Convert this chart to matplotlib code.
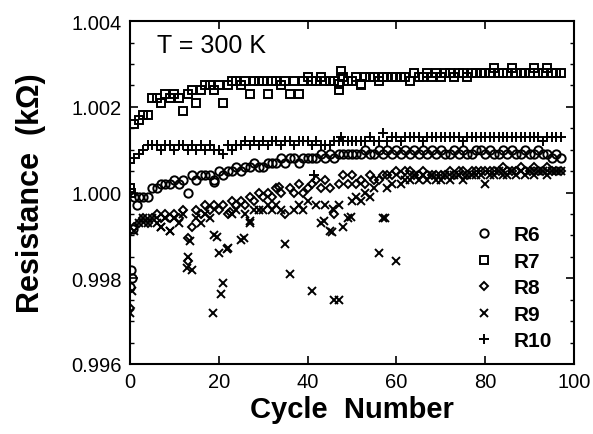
import matplotlib
matplotlib.use('Agg')
import matplotlib.pyplot as plt
import numpy as np
from matplotlib.ticker import MultipleLocator, FormatStrFormatter

plt.rcParams['font.family'] = ['Liberation Sans', 'DejaVu Sans']

# cycle numbers 0..97, one reading per cycle
cycles = list(range(98))

r6 = [0.9978, 0.9999, 0.9999, 0.9999, 0.9999, 1.0001, 1.0001, 1.0002, 1.0002, 1.0002,
      1.0003, 1.0002, 1.0003, 1.0000, 1.0004, 1.0003, 1.0004, 1.0004, 1.0004, 1.0003,
      1.0005, 1.0004, 1.0005, 1.0005, 1.0006, 1.0005, 1.0006, 1.0006, 1.0007, 1.0006,
      1.0006, 1.0007, 1.0007, 1.0007, 1.0008, 1.0007, 1.0008, 1.0008, 1.0007, 1.0008,
      1.0008, 1.0008, 1.0008, 1.0009, 1.0008, 1.0009, 1.0008, 1.0009, 1.0009, 1.0009,
      1.0009, 1.0009, 1.0009, 1.0010, 1.0009, 1.0009, 1.0010, 1.0009, 1.0010, 1.0009,
      1.0010, 1.0009, 1.0010, 1.0009, 1.0010, 1.0009, 1.0010, 1.0009, 1.0010, 1.0009,
      1.0010, 1.0009, 1.0009, 1.0010, 1.0009, 1.0010, 1.0009, 1.0009, 1.0010, 1.0010,
      1.0009, 1.0010, 1.0009, 1.0009, 1.0010, 1.0009, 1.0010, 1.0009, 1.0009, 1.0010,
      1.0009, 1.0009, 1.0010, 1.0009, 1.0009, 1.0008, 1.0009, 1.0008]

r7 = [1.0001, 1.0016, 1.0017, 1.0018, 1.0018, 1.0022, 1.0022, 1.0021, 1.0023, 1.0022,
      1.0023, 1.0022, 1.0019, 1.0023, 1.0024, 1.0021, 1.0024, 1.0025, 1.0025, 1.0024,
      1.0025, 1.0021, 1.0025, 1.0026, 1.0026, 1.0025, 1.0026, 1.0023, 1.0026, 1.0026,
      1.0026, 1.0023, 1.0026, 1.0026, 1.0025, 1.0026, 1.0023, 1.0026, 1.0023, 1.0026,
      1.0027, 1.0026, 1.0026, 1.0027, 1.0026, 1.0026, 1.0026, 1.0024, 1.0027, 1.0026,
      1.0026, 1.0027, 1.0025, 1.0027, 1.0027, 1.0027, 1.0026, 1.0027, 1.0027, 1.0027,
      1.0027, 1.0027, 1.0027, 1.0026, 1.0028, 1.0027, 1.0027, 1.0028, 1.0027, 1.0028,
      1.0027, 1.0028, 1.0028, 1.0027, 1.0028, 1.0028, 1.0027, 1.0028, 1.0028, 1.0028,
      1.0028, 1.0028, 1.0029, 1.0028, 1.0028, 1.0028, 1.0029, 1.0028, 1.0028, 1.0028,
      1.0028, 1.0029, 1.0028, 1.0028, 1.0029, 1.0028, 1.0028, 1.0028]

r8 = [0.9973, 0.9992, 0.9993, 0.9994, 0.9993, 0.9994, 0.9995, 0.9994, 0.9995, 0.9994,
      0.9995, 0.9994, 0.9996, 0.9984, 0.9992, 0.9996, 0.9995, 0.9997, 0.9996, 0.9997,
      0.9996, 0.9997, 0.9995, 0.9998, 0.9997, 0.9998, 0.9997, 0.9999, 0.9998, 1.0000,
      0.9999, 1.0000, 0.9999, 1.0001, 1.0000, 0.9995, 1.0001, 1.0000, 1.0002, 1.0000,
      1.0001, 1.0002, 1.0003, 1.0001, 1.0003, 1.0001, 0.9995, 1.0002, 1.0004, 1.0002,
      1.0004, 1.0002, 1.0003, 1.0002, 1.0004, 1.0003, 1.0003, 1.0004, 1.0004, 1.0004,
      1.0005, 1.0004, 1.0005, 1.0005, 1.0004, 1.0004, 1.0005, 1.0004, 1.0004, 1.0004,
      1.0004, 1.0004, 1.0005, 1.0004, 1.0005, 1.0005, 1.0004, 1.0005, 1.0005, 1.0005,
      1.0005, 1.0005, 1.0005, 1.0005, 1.0006, 1.0005, 1.0005, 1.0005, 1.0006, 1.0005,
      1.0005, 1.0006, 1.0005, 1.0005, 1.0006, 1.0005, 1.0005, 1.0005]

r9 = [0.9972, 0.9991, 0.9993, 0.9994, 0.9993, 0.9994, 0.9993, 0.9992, 0.9994, 0.9991,
      0.9994, 0.9993, 0.9995, 0.9985, 0.9982, 0.9994, 0.9993, 0.9995, 0.9994, 0.9990,
      0.9986, 0.9979, 0.9987, 0.9995, 0.9996, 0.9989, 0.9995, 0.9993, 0.9996, 0.9996,
      0.9996, 0.9997, 0.9996, 0.9997, 0.9996, 0.9988, 0.9981, 0.9996, 0.9997, 0.9996,
      0.9998, 0.9977, 0.9997, 0.9993, 0.9997, 0.9991, 0.9975, 0.9997, 0.9992, 0.9994,
      0.9998, 0.9999, 0.9998, 1.0000, 0.9999, 1.0001, 0.9986, 0.9994, 1.0001, 1.0002,
      0.9984, 1.0002, 1.0003, 1.0003, 1.0004, 1.0003, 1.0004, 1.0003, 1.0004, 1.0003,
      1.0003, 1.0004, 1.0003, 1.0004, 1.0004, 1.0003, 1.0004, 1.0004, 1.0004, 1.0004,
      1.0002, 1.0004, 1.0004, 1.0005, 1.0004, 1.0004, 1.0005, 1.0004, 1.0005, 1.0004,
      1.0005, 1.0004, 1.0005, 1.0005, 1.0004, 1.0005, 1.0005, 1.0005]

r10 = [1.0007, 1.0008, 1.0009, 1.0010, 1.0011, 1.0011, 1.0011, 1.0010, 1.0011, 1.0011,
       1.0010, 1.0011, 1.0011, 1.0010, 1.0011, 1.0010, 1.0011, 1.0010, 1.0011, 1.0010,
       1.0010, 1.0009, 1.0011, 1.0010, 1.0011, 1.0011, 1.0012, 1.0011, 1.0012, 1.0011,
       1.0012, 1.0011, 1.0012, 1.0012, 1.0011, 1.0012, 1.0012, 1.0011, 1.0012, 1.0012,
       1.0012, 1.0011, 1.0012, 1.0011, 1.0011, 1.0011, 1.0012, 1.0012, 1.0012, 1.0012,
       1.0012, 1.0012, 1.0012, 1.0012, 1.0013, 1.0012, 1.0012, 1.0014, 1.0012, 1.0013,
       1.0013, 1.0012, 1.0013, 1.0013, 1.0013, 1.0013, 1.0012, 1.0013, 1.0013, 1.0013,
       1.0013, 1.0013, 1.0013, 1.0013, 1.0013, 1.0012, 1.0013, 1.0013, 1.0013, 1.0013,
       1.0013, 1.0013, 1.0013, 1.0013, 1.0013, 1.0013, 1.0013, 1.0013, 1.0013, 1.0013,
       1.0013, 1.0013, 1.0013, 1.0012, 1.0013, 1.0013, 1.0013, 1.0013]

# extra readings (repeat measurements / outliers)
r6_extra_x = [0.2, 0.4, 0.6, 1.5, 19]
r6_extra_y = [0.9982, 0.9980, 0.99915, 0.9997, 1.00025]
r7_extra_x = [0.3, 47.6, 47, 52]
r7_extra_y = [1.0000, 1.00283, 1.00253, 1.00253]
r8_extra_x = [13, 22.6, 33.5, 65]
r8_extra_y = [0.99895, 0.99955, 1.00013, 1.0004]
r9_extra_x = [0.5, 7, 9, 12.8, 13.6, 18.8, 19.7, 20.6, 21.9, 25.7, 27, 43.6, 45.4,
              45.8, 47, 49.7, 57.5]
r9_extra_y = [0.9977, 0.9992, 0.9991, 0.99824, 0.99887, 0.9972, 0.99897, 0.99763,
              0.99869, 0.99894, 0.99934, 0.99934, 0.99908, 0.99962, 0.9975, 0.99943,
              0.9994]
r10_extra_x = [41.5, 47.6]
r10_extra_y = [1.0004, 1.0013]

fig = plt.figure(figsize=(5.93, 4.35), dpi=100)
ax = fig.add_axes([0.219, 0.161, 0.749, 0.788])

series = [
    ('R6', r6, r6_extra_x, r6_extra_y, dict(marker='o', ms=6, mfc='none', mew=1.4)),
    ('R7', r7, r7_extra_x, r7_extra_y, dict(marker='s', ms=5.5, mfc='none', mew=1.4)),
    ('R8', r8, r8_extra_x, r8_extra_y, dict(marker='D', ms=4.2, mfc='none', mew=1.4)),
    ('R9', r9, r9_extra_x, r9_extra_y, dict(marker='x', ms=6, mew=1.4)),
    ('R10', r10, r10_extra_x, r10_extra_y, dict(marker='+', ms=7, mew=1.4)),
]

for name, vals, ex, ey, style in series:
    xs = np.concatenate([cycles, ex])
    ys = np.concatenate([vals, ey])
    ax.plot(xs, ys, ls='none', color='black', mec='black', label=name, **style)

ax.set_xlim(0, 100)
ax.set_ylim(0.996, 1.004)
ax.xaxis.set_major_locator(MultipleLocator(20))
ax.yaxis.set_major_locator(MultipleLocator(0.002))
ax.yaxis.set_minor_locator(MultipleLocator(0.0005))
ax.yaxis.set_major_formatter(FormatStrFormatter('%.3f'))
ax.tick_params(which='both', direction='in', top=True, right=True, labelsize=14.5, pad=6)
ax.tick_params(which='major', length=6, width=1.2)
ax.tick_params(which='minor', length=3, width=1.0)
for s in ax.spines.values():
    s.set_linewidth(1.5)

ax.set_xlabel('Cycle  Number', fontsize=21, fontweight='bold', labelpad=3)
ax.set_ylabel('Resistance  (k\u03a9)', fontsize=22, fontweight='bold', labelpad=18)

ax.text(0.06, 0.965, 'T = 300 K', transform=ax.transAxes, fontsize=18, va='top', ha='left')

leg = ax.legend(loc='lower right', bbox_to_anchor=(0.98, 0.0), frameon=False,
                prop={'size': 15, 'weight': 'bold'}, handlelength=1.0,
                handletextpad=0.9, labelspacing=0.36, borderaxespad=0.25)

fig.savefig('out.png', dpi=100)
